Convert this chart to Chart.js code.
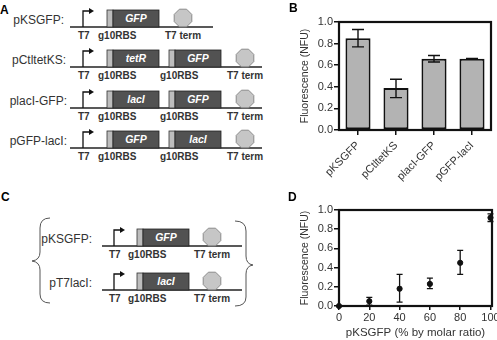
<!DOCTYPE html>
<html>
<head>
<meta charset="utf-8">
<script src="https://cdn.jsdelivr.net/npm/chart.js@4"></script>
<style>
  body { margin: 0; background: #fff; }
  #fig { position: relative; width: 497px; height: 340px; overflow: hidden; background: #fff;
         font-family: "Liberation Sans", Arial, sans-serif; }
  #fig canvas { position: absolute; }
  #diagram { position: absolute; left: 0; top: 0; }
  .panel { position: absolute; font: bold 12px "Liberation Sans", Arial, sans-serif; color: #000; }
</style>
</head>
<body>
<div id="fig">
  <svg id="diagram" width="497" height="340"></svg>
  <canvas id="chartB" style="left:260px;top:0px;width:237px;height:195px" width="237" height="195"></canvas>
  <canvas id="chartD" style="left:260px;top:195px;width:237px;height:145px" width="237" height="145"></canvas>
  <div class="panel" style="left:0px;top:3px">A</div>
  <div class="panel" style="left:289px;top:1px">B</div>
  <div class="panel" style="left:1px;top:190px">C</div>
  <div class="panel" style="left:288px;top:190px">D</div>
</div>
<script>
"use strict";

/* panel B data */
var bLabels = ['pKSGFP', 'pCtltetKS', 'placI-GFP', 'pGFP-lacI'];
var bValues = [0.85, 0.39, 0.66, 0.66];
var bErrLow = [0.77, 0.30, 0.63, 0.657];
var bErrHigh = [0.93, 0.47, 0.69, 0.663];

/* panel D data */
var dX = [0, 20, 40, 60, 80, 100];
var dValues = [0, 0.05, 0.18, 0.23, 0.45, 0.92];
var dErrLow = [0, 0.01, 0.04, 0.18, 0.33, 0.88];
var dErrHigh = [0, 0.09, 0.33, 0.29, 0.58, 0.96];

var yTicks = [0, 0.2, 0.4, 0.6, 0.8, 1.0];
var dTicks = [0, 20, 40, 60, 80, 100];

/* diagrams (panels A and C) */
var svg = document.getElementById('diagram');
var NS = 'http://www.w3.org/2000/svg';
function el(tag, attrs, text) {
    var e = document.createElementNS(NS, tag);
    for (var k in attrs) e.setAttribute(k, attrs[k]);
    if (text) e.textContent = text;
    svg.appendChild(e);
    return e;
}
function label(x, y, t, opts) {
    opts = opts || {};
    el('text', {
        x: x, y: y, fill: opts.fill || '#333',
        'font-family': 'Liberation Sans, Arial, sans-serif',
        'font-size': opts.size || 10, 'font-weight': opts.weight || 'bold',
        'font-style': opts.style || 'normal', 'text-anchor': opts.anchor || 'start'
    }, t);
}
function octagon(cx, cy, r) {
    var pts = [];
    for (var i = 0; i < 8; i++) {
        var a = Math.PI / 8 + i * Math.PI / 4;
        pts.push((cx + r * Math.cos(a)).toFixed(1) + ',' + (cy + r * Math.sin(a)).toFixed(1));
    }
    el('polygon', { points: pts.join(' '), fill: '#c6c6c6', stroke: '#8a8a8a', 'stroke-width': 1 });
}
function construct(c) {
    var y = c.y;
    el('line', { x1: c.x0, y1: y, x2: c.x1, y2: y, stroke: '#222', 'stroke-width': 1.5 });
    // promoter arrow
    el('path', { d: 'M' + c.pro + ' ' + y + ' V' + (y - 16) + ' H' + (c.pro + 7),
                 fill: 'none', stroke: '#111', 'stroke-width': 1.3 });
    el('polygon', { points: (c.pro + 11) + ',' + (y - 16) + ' ' + (c.pro + 6) + ',' + (y - 19) + ' ' + (c.pro + 6) + ',' + (y - 13), fill: '#111' });
    label(c.pro - 5, y + 12, 'T7');
    c.genes.forEach(function (g) {
        el('rect', { x: g.x, y: y - 17, width: 6, height: 17, fill: '#bdbdbd', stroke: '#333', 'stroke-width': 0.8 });
        el('rect', { x: g.x + 6, y: y - 17, width: 46, height: 17, fill: '#525252', stroke: '#222', 'stroke-width': 0.8 });
        label(g.x + 29, y - 5, g.name, { fill: '#fff', style: 'italic', size: 10.5, anchor: 'middle' });
        label(g.x - 9, y + 12, 'g10RBS');
    });
    octagon(c.term, y - 9, 9.5);
    label(c.term - 18, y + 12, 'T7 term');
    label(c.nameX, y - 3, c.name, { weight: 'normal', size: 12, anchor: 'end' });
}

construct({ y: 27, x0: 70, x1: 213, pro: 83, term: 183, nameX: 64, name: 'pKSGFP:',
            genes: [{ x: 107, name: 'GFP' }] });
construct({ y: 67, x0: 70, x1: 262, pro: 83, term: 245, nameX: 66, name: 'pCtltetKS:',
            genes: [{ x: 107, name: 'tetR' }, { x: 169, name: 'GFP' }] });
construct({ y: 108, x0: 70, x1: 262, pro: 83, term: 245, nameX: 67, name: 'placI-GFP:',
            genes: [{ x: 107, name: 'lacI' }, { x: 169, name: 'GFP' }] });
construct({ y: 148, x0: 70, x1: 262, pro: 83, term: 245, nameX: 67, name: 'pGFP-lacI:',
            genes: [{ x: 107, name: 'GFP' }, { x: 169, name: 'lacI' }] });

construct({ y: 246, x0: 102, x1: 242, pro: 114, term: 212, nameX: 92, name: 'pKSGFP:',
            genes: [{ x: 137, name: 'GFP' }] });
construct({ y: 290, x0: 102, x1: 242, pro: 114, term: 212, nameX: 92, name: 'pT7lacI:',
            genes: [{ x: 137, name: 'lacI' }] });

// curly braces round panel C
el('path', { d: 'M50 218 Q40 218 40 228 V252 Q40 260 32 261 Q40 262 40 270 V294 Q40 303 50 303',
             fill: 'none', stroke: '#555', 'stroke-width': 1 });
el('path', { d: 'M235 221 Q246 221 246 231 V256 Q246 264 253 265 Q246 266 246 274 V297 Q246 306 235 306',
             fill: 'none', stroke: '#555', 'stroke-width': 1 });

/* chart helpers */
var FONT = 'Liberation Sans, Arial, sans-serif';

var errorBars = {
    id: 'errorBars',
    afterDatasetsDraw: function (chart, args, opts) {
        var ctx = chart.ctx, meta = chart.getDatasetMeta(0), ys = chart.scales.y;
        ctx.save();
        ctx.strokeStyle = '#111';
        ctx.lineWidth = opts.width;
        meta.data.forEach(function (pt, i) {
            if (opts.high[i] === opts.low[i]) return;
            var x = pt.x, y1 = ys.getPixelForValue(opts.low[i]), y2 = ys.getPixelForValue(opts.high[i]);
            ctx.beginPath();
            ctx.moveTo(x, y1); ctx.lineTo(x, y2);
            ctx.moveTo(x - opts.cap, y1); ctx.lineTo(x + opts.cap, y1);
            ctx.moveTo(x - opts.cap, y2); ctx.lineTo(x + opts.cap, y2);
            ctx.stroke();
        });
        ctx.restore();
    }
};

var frame = {
    id: 'frame',
    afterDraw: function (chart) {
        var a = chart.chartArea, ctx = chart.ctx;
        ctx.save();
        ctx.strokeStyle = '#111';
        ctx.lineWidth = 2.2;
        ctx.strokeRect(a.left, a.top, a.right - a.left, a.bottom - a.top);
        ctx.restore();
    }
};

function yScale(width) {
    return {
        min: 0, max: 1,
        afterBuildTicks: function (s) { s.ticks = yTicks.map(function (v) { return { value: v }; }); },
        afterFit: function (s) { s.width = width; },
        ticks: { color: '#333', padding: 1, font: { family: FONT, size: 11 },
                 callback: function (v) { return Number(v).toFixed(1); } },
        grid: { drawOnChartArea: false, drawTicks: true, tickLength: 5, color: '#111', lineWidth: 1.5 },
        border: { display: true, color: '#111', width: 2 },
        title: { display: true, text: 'Fluorescence (NFU)', color: '#333',
                 font: { family: FONT, size: 10.5 }, padding: { top: 4, bottom: 2 } }
    };
}

/* panel B: bar chart */
new Chart(document.getElementById('chartB').getContext('2d'), {
    type: 'bar',
    data: {
        labels: bLabels,
        datasets: [{
            data: bValues,
            backgroundColor: '#b3b3b3',
            borderColor: '#111',
            borderWidth: 2,
            borderSkipped: false,
            barPercentage: 0.66,
            categoryPercentage: 1
        }]
    },
    options: {
        responsive: false,
        animation: false,
        layout: { padding: { left: 35, right: 6, top: 22, bottom: 0 } },
        plugins: {
            legend: { display: false },
            tooltip: { enabled: false },
            errorBars: { low: bErrLow, high: bErrHigh, cap: 6, width: 1.4 }
        },
        scales: {
            x: {
                afterFit: function (s) { s.height = 65; s.paddingLeft = 0; s.paddingRight = 0; },
                ticks: { color: '#333', minRotation: 45, maxRotation: 45, padding: 4,
                         font: { family: FONT, size: 11 } },
                grid: { drawOnChartArea: false, drawTicks: true, tickLength: 5, color: '#111', lineWidth: 1.5, offset: false },
                border: { display: true, color: '#111', width: 2 }
            },
            y: yScale(44)
        }
    },
    plugins: [errorBars, frame]
});

/* panel D: scatter with error bars */
new Chart(document.getElementById('chartD').getContext('2d'), {
    type: 'scatter',
    data: {
        datasets: [{
            data: dX.map(function (x, i) { return { x: x, y: dValues[i] }; }),
            backgroundColor: '#111',
            borderColor: '#111',
            pointRadius: 2.6,
            clip: false
        }]
    },
    options: {
        responsive: false,
        animation: false,
        layout: { padding: { left: 35, right: 5, top: 15, bottom: 0 } },
        plugins: {
            legend: { display: false },
            tooltip: { enabled: false },
            errorBars: { low: dErrLow, high: dErrHigh, cap: 3, width: 1.3 }
        },
        scales: {
            x: {
                min: 0, max: 101,
                afterBuildTicks: function (s) { s.ticks = dTicks.map(function (v) { return { value: v }; }); },
                afterFit: function (s) { s.height = 34; s.paddingLeft = 0; s.paddingRight = 0; },
                ticks: { color: '#333', padding: 1, maxRotation: 0, font: { family: FONT, size: 11 } },
                grid: { drawOnChartArea: false, drawTicks: true, tickLength: 4, color: '#111', lineWidth: 1.5 },
                border: { display: true, color: '#111', width: 2 },
                title: { display: true, text: 'pKSGFP (% by molar ratio)', color: '#333',
                         font: { family: FONT, size: 11.5 }, padding: { top: 1, bottom: 0 } }
            },
            y: yScale(44)
        }
    },
    plugins: [errorBars, frame]
});
</script>
</body>
</html>
